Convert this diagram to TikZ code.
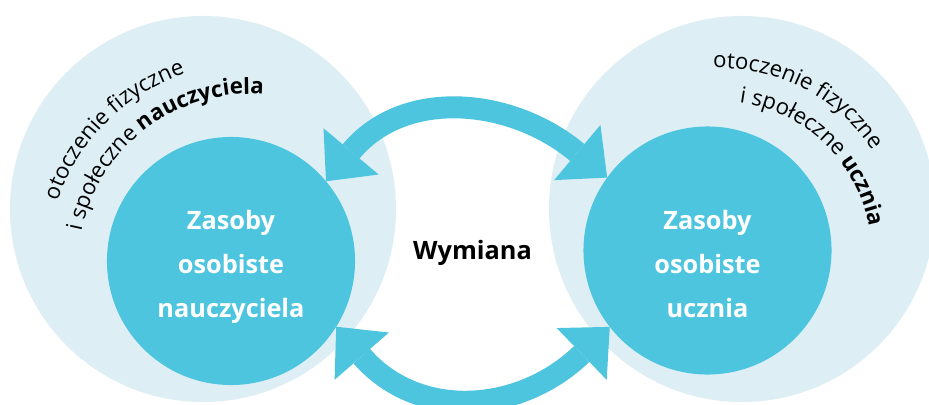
\documentclass[tikz,border=0pt]{standalone}
\usepackage{fontspec}
\setmainfont{Open Sans}
\usepackage{xcolor}
\definecolor{Cyan}{HTML}{4EC5DF}
\definecolor{CyanLight}{HTML}{DDEFF5}
\usetikzlibrary{arrows.meta, decorations.text}
\newcommand{\envfont}{\fontsize{15.8}{18}\selectfont}
\tikzset{
  envcirc/.style={
    circle, fill=CyanLight,
    minimum size=9.65cm, inner sep=0pt, outer sep=0pt
  },
  rescirc/.style={
    circle, fill=Cyan,
    minimum size=6.2cm, inner sep=0pt, outer sep=0pt
  },
  restext/.style={
    align=center, text=white, inner sep=0pt,
    font=\fontsize{18}{31.3}\selectfont\bfseries
  },
  xarr/.style={
    {Triangle[width=1.8cm, length=0.975cm, line width=0pt]}-{Triangle[width=1.8cm, length=0.975cm, line width=0pt]},
    line width=0.55cm, draw=Cyan
  },
  arctext/.style={
    decorate, decoration={text along path, text align=left, text={#1}}
  },
}

\begin{document}
\begin{tikzpicture}[x=0.025cm, y=0.025cm]

\useasboundingbox (0,0) rectangle (929,404);
\clip (0,0) rectangle (929,404);

% surroundings
\node[envcirc] (tchrenv) at (203,195) {};
\node[envcirc] (studenv) at (742,195) {};

% personal resources
\node[rescirc] (tchr) at (231,143) {};
\node[rescirc] (stud) at (707.5,153.5) {};

\node[restext] (tchrtxt) at (231,137.5) {Zasoby\\osobiste\\nauczyciela};
\node[restext] (studtxt) at (707.5,137.5) {Zasoby\\osobiste\\ucznia\vphantom{y}};

\node[font=\fontsize{18}{22}\selectfont\bfseries, inner sep=0pt] (exch) at (472.5,151) {Wymiana};

% exchange arrows
\draw[xarr] (tchr.40) to[out=50, in=140, looseness=1.12] (stud.144);
\draw[xarr] (tchr.-32) to[out=-49, in=224, looseness=1.17] (stud.218);

% curved labels
\path[arctext={|\envfont|otoczenie fizyczne}]
  (250,138) ++(161.5:203) arc[start angle=161.5, end angle=40, radius=203];
\path[arctext={|\envfont|i społeczne |\envfont\bfseries|nauczyciela}]
  (250,138) ++(168.5:172) arc[start angle=168.5, end angle=20, radius=172];
\path[arctext={|\envfont|otoczenie fizyczne}]
  (718,149) ++(91.5:187) arc[start angle=91.5, end angle=-30, radius=187];
\path[arctext={|\envfont|i społeczne |\envfont\bfseries|ucznia}]
  (718,149) ++(82:154) arc[start angle=82, end angle=-50, radius=154];

\end{tikzpicture}
\end{document}
